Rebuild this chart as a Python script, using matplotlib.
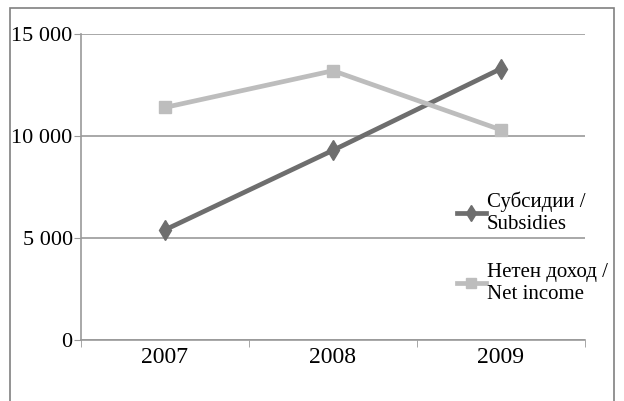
import matplotlib.pyplot as plt
from matplotlib.patches import Rectangle
from matplotlib.ticker import FuncFormatter, MultipleLocator

years = ['2007', '2008', '2009']
subsidies = [5400, 9300, 13300]
net_income = [11400, 13200, 10300]
labels = ['Субсидии /\nSubsidies', 'Нетен доход /\nNet income']

plt.rcParams['font.family'] = ['Liberation Serif', 'DejaVu Serif']

fig = plt.figure(figsize=(6.24, 4.01), dpi=100)
ax = fig.add_axes([81 / 624, 1 - 340 / 401, 504 / 624, 306 / 401])

x = range(len(years))
ax.plot(x, subsidies, color='#6e6e6e', lw=3.4, marker='d', ms=10, label=labels[0])
ax.plot(x, net_income, color='#bdbdbd', lw=3.4, marker='s', ms=9, label=labels[1])

ax.set_xlim(-0.5, 2.5)
ax.set_ylim(0, 15000)
ax.set_xticks(list(x))
ax.set_xticklabels(years)
ax.set_xticks([-0.5, 0.5, 1.5, 2.5], minor=True)
ax.tick_params(axis='x', which='major', length=0, pad=5, labelsize=17)
ax.tick_params(axis='x', which='minor', length=5, color='#999999')
ax.yaxis.set_major_locator(MultipleLocator(5000))
ax.yaxis.set_major_formatter(FuncFormatter(lambda v, p: f'{int(v):,}'.replace(',', ' ')))
ax.tick_params(axis='y', length=5, color='#999999', labelsize=16, pad=1)
ax.grid(axis='y', color='#999999', lw=1.2)
ax.set_axisbelow(True)
for s in ['top', 'right']:
    ax.spines[s].set_visible(False)
for s in ['left', 'bottom']:
    ax.spines[s].set_color('#999999')
    ax.spines[s].set_linewidth(1.2)

ax.legend(loc='center left', bbox_to_anchor=(438 / 624, 1 - 248 / 401), bbox_transform=fig.transFigure,
          frameon=False, handlelength=1.4, handletextpad=0.05, labelspacing=1.4, fontsize=15,
          markerscale=0.8)

fig.patches.append(Rectangle((10 / 624, -0.1), 604 / 624, 1.1 - 8 / 401, transform=fig.transFigure,
                             fill=False, edgecolor='#808080', lw=1.2))

fig.savefig('out.png', dpi=100)
